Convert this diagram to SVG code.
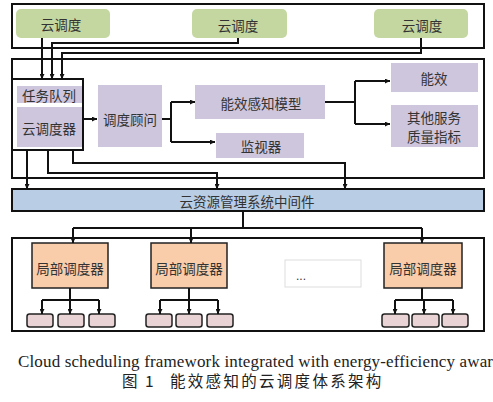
<svg xmlns="http://www.w3.org/2000/svg" width="493" height="402" viewBox="0 0 493 402">
<defs>
<marker id="ah" viewBox="0 0 8 8" refX="8" refY="4" markerWidth="5" markerHeight="5" orient="auto" markerUnits="userSpaceOnUse">
<path d="M0,0 L8,4 L0,8 Z" fill="#111"/>
</marker>
<style>
.frame{fill:none;stroke:#111;stroke-width:2}
.cloud{fill:#C5D7A1}
.lav{fill:#CEC6DD}
.mw{fill:#B9CDE4;stroke:#111;stroke-width:2}
.loc{fill:#F9CCAA;stroke:#222;stroke-width:1.5}
.sm{fill:#E9D3D5;stroke:#222;stroke-width:1.5}
.dots{fill:#fff;stroke:#ddd;stroke-width:1}
.t{font-family:"Noto Sans CJK SC","Noto Sans",sans-serif;font-size:13.5px;fill:#333;text-anchor:middle;dominant-baseline:central}
.c{stroke:#111;stroke-width:2;fill:none}
.a{stroke:#111;stroke-width:2;fill:none;marker-end:url(#ah)}
.cap{font-family:"Liberation Serif",serif;font-size:17px;fill:#222}
.capz{font-family:"Noto Sans CJK SC","Liberation Serif",sans-serif;font-size:15.5px;fill:#222}
</style>
</defs>
<rect x="0" y="0" width="493" height="402" fill="#fff"/>

<!-- containers -->
<rect class="frame" x="12" y="4" width="472" height="44"/>
<rect class="frame" x="12" y="59" width="472" height="119"/>
<rect class="frame" x="12" y="238" width="472" height="93"/>

<!-- top cloud nodes -->
<g id="cloud1"><rect class="cloud" x="16" y="9" width="94" height="29" rx="5"/><text class="t" x="61" y="24">云调度</text></g>
<g id="cloud2"><rect class="cloud" x="192" y="9" width="95" height="29" rx="5"/><text class="t" x="238" y="25">云调度</text></g>
<g id="cloud3"><rect class="cloud" x="374" y="9" width="94" height="29" rx="5"/><text class="t" x="422" y="25">云调度</text></g>

<!-- queue / scheduler -->
<g id="scheduler">
<rect class="frame" x="12" y="79" width="71" height="71"/>
<rect class="lav" x="17" y="86" width="65" height="17"/>
<text class="t" x="49" y="95">任务队列</text>
<rect class="lav" x="17" y="107" width="65" height="40"/>
<text class="t" x="49" y="128">云调度器</text>
</g>

<g id="advisor"><rect class="lav" x="98" y="85" width="64" height="62"/><text class="t" x="130" y="119">调度顾问</text></g>
<g id="model"><rect class="lav" x="195" y="85" width="130" height="34"/><text class="t" x="261" y="103">能效感知模型</text></g>
<g id="monitor"><rect class="lav" x="216" y="133" width="88" height="25"/><text class="t" x="261" y="146">监视器</text></g>
<g id="energy"><rect class="lav" x="391" y="63" width="87" height="29"/><text class="t" x="434" y="78">能效</text></g>
<g id="qos"><rect class="lav" x="391" y="105" width="87" height="42"/><text class="t" x="434" y="117">其他服务</text><text class="t" x="434" y="136">质量指标</text></g>

<g id="middleware"><rect class="mw" x="12" y="189" width="472" height="22"/><text class="t" x="247" y="201">云资源管理系统中间件</text></g>

<g id="local1"><rect class="loc" x="32" y="243" width="76" height="45"/><text class="t" x="70" y="268">局部调度器</text></g>
<g id="local2"><rect class="loc" x="151" y="243" width="76" height="45"/><text class="t" x="189" y="268">局部调度器</text></g>
<g id="dots"><rect class="dots" x="285" y="260" width="76" height="27"/><text class="t" x="301" y="276" style="font-family:'Liberation Sans',sans-serif;font-size:12px">...</text></g>
<g id="local3"><rect class="loc" x="384" y="243" width="78" height="45"/><text class="t" x="423" y="268">局部调度器</text></g>

<g id="workers">
<rect class="sm" x="27" y="314" width="26" height="13" rx="2.5"/>
<rect class="sm" x="58" y="314" width="26" height="13" rx="2.5"/>
<rect class="sm" x="89" y="314" width="26" height="13" rx="2.5"/>
<rect class="sm" x="146" y="314" width="26" height="13" rx="2.5"/>
<rect class="sm" x="176" y="314" width="26" height="13" rx="2.5"/>
<rect class="sm" x="207" y="314" width="26" height="13" rx="2.5"/>
<rect class="sm" x="382" y="314" width="27" height="13" rx="2.5"/>
<rect class="sm" x="412" y="314" width="27" height="13" rx="2.5"/>
<rect class="sm" x="442" y="314" width="26" height="13" rx="2.5"/>
</g>

<g id="connectors">
<path class="a" d="M42,38 V79"/>
<path class="a" d="M238,38 V43 H52 V79"/>
<path class="a" d="M421,38 V53 H62 V79"/>
<path class="a" d="M83,119 H97"/>
<path class="c" d="M162,119 H171 M171,102 V142"/>
<path class="a" d="M171,102 H195"/>
<path class="a" d="M171,142 H215"/>
<path class="c" d="M325,102 H355 M355,81 V124"/>
<path class="a" d="M355,81 H390"/>
<path class="a" d="M355,124 H390"/>
<path class="a" d="M27,150 V189"/>
<path class="a" d="M48,150 V173 H217 V189"/>
<path class="a" d="M73,150 V163 H345 V189"/>
<path class="c" d="M243,211 V228 M73,228 H422"/>
<path class="a" d="M73,228 V243"/>
<path class="a" d="M191,228 V243"/>
<path class="a" d="M422,228 V243"/>
<path class="c" d="M70,288 V300 M42,300 H99"/>
<path class="a" d="M42,300 V314"/>
<path class="a" d="M70,300 V314"/>
<path class="a" d="M99,300 V314"/>
<path class="c" d="M189,288 V300 M160,300 H218"/>
<path class="a" d="M160,300 V314"/>
<path class="a" d="M189,300 V314"/>
<path class="a" d="M218,300 V314"/>
<path class="c" d="M422,288 V300 M395,300 H453"/>
<path class="a" d="M395,300 V314"/>
<path class="a" d="M424,300 V314"/>
<path class="a" d="M453,300 V314"/>
</g>

<text class="cap" x="18" y="367" textLength="475" lengthAdjust="spacing">Cloud scheduling framework integrated with energy-efficiency awar</text>
<text class="capz" x="122" y="387">图</text>
<text class="capz" x="145" y="387">1</text>
<text class="capz" x="170" y="387" letter-spacing="2.3">能效感知的云调度体系架构</text>
</svg>
